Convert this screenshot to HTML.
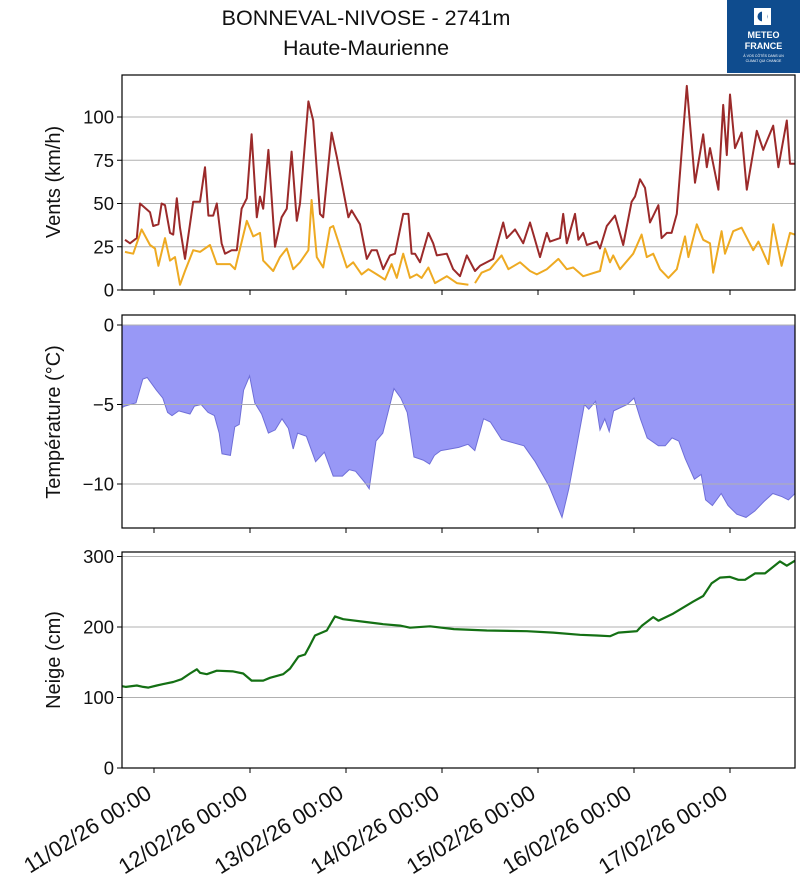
<!DOCTYPE html>
<html><head><meta charset="utf-8"><style>
html,body{margin:0;padding:0;background:#fff;width:800px;height:885px;overflow:hidden}
svg{display:block;font-family:"Liberation Sans","DejaVu Sans",sans-serif}
</style></head><body>
<svg id="chart" width="800" height="885" viewBox="0 0 800 885" xmlns="http://www.w3.org/2000/svg">
<text x="366" y="25" font-size="21.5" text-anchor="middle" fill="#111">BONNEVAL-NIVOSE - 2741m</text>
<text x="366" y="55" font-size="21.5" text-anchor="middle" fill="#111">Haute-Maurienne</text>
<g>
<rect x="727" y="0" width="73" height="73" fill="#0f4c8e"/>
<rect x="754" y="8" width="17" height="17" fill="#fff"/>
<circle cx="762.5" cy="16.5" r="5" fill="#0f4c8e"/>
<rect x="762" y="10" width="5" height="13" fill="#fff"/>
<text x="763.5" y="38" font-size="9" font-weight="bold" fill="#fff" text-anchor="middle">METEO</text>
<text x="763.5" y="49" font-size="9" font-weight="bold" fill="#fff" text-anchor="middle">FRANCE</text>
<text x="763.5" y="57" font-size="3.5" fill="#fff" text-anchor="middle">À VOS CÔTÉS DANS UN</text>
<text x="763.5" y="62" font-size="3.5" fill="#fff" text-anchor="middle">CLIMAT QUI CHANGE</text>
</g>
<text transform="translate(60,182) rotate(-90)" font-size="20" text-anchor="middle" fill="#111">Vents (km/h)</text>
<text transform="translate(60,422) rotate(-90)" font-size="20" text-anchor="middle" fill="#111">Température (°C)</text>
<text transform="translate(60,660) rotate(-90)" font-size="20" text-anchor="middle" fill="#111">Neige (cm)</text>
<g id="layer"></g>
</svg>
<script>
// time in hours since 11/02/26 00:00
const dayTicks = [0, 24, 48, 72, 96, 120, 144];
const dayLabels = ["11/02/26 00:00","12/02/26 00:00","13/02/26 00:00","14/02/26 00:00","15/02/26 00:00","16/02/26 00:00","17/02/26 00:00"];
const gustTimes = [-7.25,-6,-4.3,-3.5,-1,-0.2,1.1,1.9,2.75,4,4.8,5.7,6.5,7.75,9.8,11.5,12.75,13.6,14.8,15.7,16.9,17.75,19.4,20.7,21.9,23.2,24.4,25.7,26.5,27.3,28.6,30.25,31.9,33.2,34.4,35.7,36.5,38.6,39.8,41.5,42.3,44.4,45.7,48.6,49.4,51.5,53.2,54.4,55.7,57.3,59,60.25,62.3,63.6,64.4,65.25,66.5,68.6,69.8,70.7,73.2,74.8,76.5,78.2,80.25,81.5,84.8,87.3,88.2,90.25,92.3,94,96.5,98.2,99,101.5,102.3,103.2,105.25,106.1,107.3,108.2,110.7,111.5,113.2,115.25,117.3,119.4,120.25,121.5,122.75,124,126.1,126.9,128.2,129.4,130.7,133.2,135.25,137.3,138.2,139,141.1,142.3,143.2,144,145.25,146.9,148.2,150.7,152.3,154.8,156.1,158.2,159,160.2];
const gustValues = [29,27,30,50,45,37,38,50,49,33,32,53,36,18,51,51,71,43,43,50,27,21,23,23,47,53,90,42,54,47,81,25,42,47,80,40,50,109,98,44,42,91,77,42,46,38,18,23,23,12,20,21,44,44,21,21,16,33,27,20,21,12,8,20,11,14,18,39,30,35,27,39,19,33,28,30,44,27,44,29,33,26,28,24,37,43,26,51,54,64,59,39,49,30,33,33,44,118,62,90,71,82,58,107,78,113,82,91,58,92,81,95,71,98,73,73];
const meanTimes = [-7.25,-5.2,-3.1,-1,0.25,1.1,2.75,4,5.25,6.5,7.75,9.8,11.5,14,15.7,17.3,19,20.25,23.2,24.8,26.5,27.3,29.8,31.5,33.2,34.8,36.5,38.6,39.4,40.7,42.3,44,44.8,46.5,48.2,49.8,51.9,53.6,55.7,57.75,59.4,60.7,62.3,64,65.7,66.9,68.6,70.25,73.2,75.7,78.6,79.4,80.25,81.9,84,86.9,88.6,91.5,94,95.7,98.2,101.1,103.2,104.8,107.3,111.5,112.75,114,114.8,116.5,119.8,121.9,123.2,124.8,126.5,128.6,130.7,132.75,133.6,135.7,137.3,139,139.8,141.9,142.75,144.8,146.9,149.8,151.1,153.6,154.8,156.9,159,160.2];
const meanValues = [22,21,35,26,24,14,30,17,19,3,11,23,22,26,15,15,15,12,40,31,33,17,11,19,24,12,16,23,52,19,13,36,37,25,13,16,9,12,9,6,15,7,21,7,9,7,13,4,8,4,3,null,4,10,12,20,12,16,11,9,12,18,12,13,8,11,24,16,20,12,21,32,19,21,12,7,12,31,19,38,29,27,10,34,21,34,36,23,28,15,38,14,33,32];
const tempTimes = [-8,-7.3,-4.5,-2.8,-1.7,0.6,2.2,3.4,4.5,6.2,9,10.1,11.8,13.5,15.1,16.3,17,19.1,20.2,21.3,22.4,23.9,25.2,26.9,28.6,30.3,32,33.6,34.8,35.9,38.1,40.4,42.6,44.8,47.1,48.8,50.4,52.7,53.8,55.5,57.2,60,61.7,63.3,65,67.3,68.9,70.1,71.7,74,76.2,78.5,80.2,82.4,84.1,86.9,89.7,92.5,95.3,98.7,102,103.7,105.4,107.6,108.7,110.4,111.5,112.7,113.8,114.9,118.3,120,121.6,123.3,126.1,127.8,129.5,131.2,132.8,135.1,136.8,137.9,139.6,141.8,143.5,145.7,148,150.2,152.5,154.7,157,158.6,160.25];
const tempValues = [-5.2,-5.1,-4.9,-3.4,-3.3,-4.1,-4.6,-5.5,-5.7,-5.4,-5.6,-5.1,-5.0,-5.5,-5.7,-6.8,-8.1,-8.2,-6.4,-6.25,-4.1,-3.2,-4.9,-5.6,-6.8,-6.6,-5.9,-6.5,-7.8,-6.8,-7.0,-8.6,-8.0,-9.5,-9.5,-9.1,-9.2,-9.9,-10.3,-7.3,-6.8,-4.0,-4.6,-5.5,-8.3,-8.5,-8.75,-8.2,-7.9,-7.8,-7.7,-7.5,-7.9,-5.9,-6.1,-7.2,-7.4,-7.6,-8.6,-10.1,-12.1,-10.3,-8.0,-5.0,-5.3,-4.8,-6.6,-5.9,-6.7,-5.4,-5.0,-4.6,-5.9,-7.1,-7.6,-7.6,-7.1,-7.3,-8.4,-9.7,-9.4,-11.0,-11.35,-10.6,-11.35,-11.9,-12.1,-11.7,-11.1,-10.6,-10.8,-11.0,-10.6];
const snowTimes = [-8,-7,-4.3,-2.7,-1.4,0.7,2.3,4.8,6.9,9,10.7,11.5,13.2,15.7,19.8,22.3,24.4,27.3,29,32.3,34,36.1,37.75,39,40.25,43.2,45.25,47.3,53.2,57.3,61.5,64,69,75,83.2,93.2,99.8,106.5,110.7,114,116.1,120.7,122,124.8,126.1,129.8,134.8,137.3,139.4,141.5,144,146.1,147.75,150.25,152.75,156.5,158.2,160.25];
const snowValues = [116,115,117,115,114,117,119,122,126,134,140,135,133,138,137,134,124,124,128,133,141,158,161,174,188,195,215,211,207,204,202,199,201,197,195,194,192,189,188,187,192,194,202,214,209,219,236,244,262,270,271,267,267,276,276,293,287,294];
const windTicks = [0,25,50,75,100];
const tempTickVals = [0,-5,-10];
const snowTickVals = [0,100,200,300];

const svg = document.getElementById('layer');
const NS = 'http://www.w3.org/2000/svg';
const X0 = 154, PXH = 4, LEFT = 122, RIGHT = 795;
function xs(t){ return X0 + t*PXH; }
const panels = {
  wind:{top:75,bottom:290,y:v=>290 - v*1.73},
  temp:{top:315,bottom:528,y:v=>325 - v*15.9},
  snow:{top:552,bottom:768,y:v=>768 - v*0.705}
};
function mk(tag, attrs){ const e=document.createElementNS(NS,tag); for(const k in attrs) e.setAttribute(k,attrs[k]); svg.appendChild(e); return e; }
function pathFrom(times, vals, y){
  let d='', pen=false;
  for(let i=0;i<times.length;i++){
    if(vals[i]===null||vals[i]===undefined){pen=false;continue;}
    const px=Math.max(LEFT,Math.min(RIGHT,xs(times[i])));
    d += (pen?'L':'M') + px.toFixed(1)+','+y(vals[i]).toFixed(1)+' ';
    pen=true;
  }
  return d;
}
function gridAndTicks(p, vals, name){
  vals.forEach(v=>{
    const yy=p.y(v);
    const g=mk('line',{x1:LEFT,x2:RIGHT,y1:yy,y2:yy,stroke:'#b0b0b0','stroke-width':1});
    
    
    const tk=mk('line',{x1:LEFT-5,x2:LEFT,y1:yy,y2:yy,stroke:'#000','stroke-width':1});
    
    
    const tx=mk('text',{x:LEFT-8,y:yy+6.5,'font-size':18.5,'text-anchor':'end',fill:'#111'});
    tx.textContent = v===0?'0':(v<0?'\u2212'+Math.abs(v):String(v));
    
    
  });
}
function frame(p, name){
  dayTicks.forEach(t=>{
    const tk=mk('line',{x1:xs(t),x2:xs(t),y1:p.bottom,y2:p.bottom+5,stroke:'#000','stroke-width':1});
    
    
  });
  const r=mk('rect',{x:LEFT,y:p.top,width:RIGHT-LEFT,height:p.bottom-p.top,fill:'none',stroke:'#000','stroke-width':1.2});
  
  
}
{
  const p=panels.temp;
  let d='M'+LEFT+','+p.y(0)+' ';
  for(let i=0;i<tempTimes.length;i++){ const px=Math.max(LEFT,Math.min(RIGHT,xs(tempTimes[i]))); d+='L'+px.toFixed(1)+','+p.y(tempValues[i]).toFixed(1)+' '; }
  d+='L'+Math.min(RIGHT,xs(tempTimes[tempTimes.length-1])).toFixed(1)+','+p.y(0)+' Z';
  const a=mk('path',{d:d,fill:'#9898f6',stroke:'#6f6fd8','stroke-width':1});
  
  
}
gridAndTicks(panels.wind, windTicks, 'wind');
gridAndTicks(panels.temp, tempTickVals, 'temperature');
gridAndTicks(panels.snow, snowTickVals, 'snow');
{
  const l=mk('path',{d:pathFrom(gustTimes,gustValues,panels.wind.y),fill:'none',stroke:'#9b2a2a','stroke-width':2,'stroke-linejoin':'round'});
  
  
  const m=mk('path',{d:pathFrom(meanTimes,meanValues,panels.wind.y),fill:'none',stroke:'#eeaa22','stroke-width':2,'stroke-linejoin':'round'});
  
  
  const s=mk('path',{d:pathFrom(snowTimes,snowValues,panels.snow.y),fill:'none',stroke:'#147014','stroke-width':2.2,'stroke-linejoin':'round'});
  
  
}
frame(panels.wind,'wind');
frame(panels.temp,'temperature');
frame(panels.snow,'snow');
dayTicks.forEach((t,i)=>{
  const tx=mk('text',{x:0,y:0,'font-size':22,'text-anchor':'end',fill:'#111',transform:'translate('+(xs(t)-1)+',797) rotate(-32)'});
  tx.textContent=dayLabels[i];
  
  
});
</script>
</body></html>
